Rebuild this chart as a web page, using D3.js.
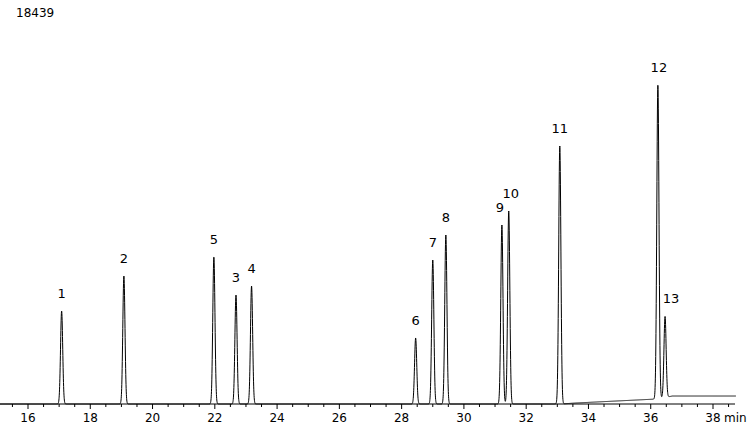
<!DOCTYPE html><html><head><meta charset="utf-8"><script src="https://cdn.jsdelivr.net/npm/d3@7"></script>
<style>body{margin:0;background:#fff}text{font-family:"DejaVu Sans",sans-serif}</style></head><body><svg id="c" width="750" height="425"></svg>
<script>
const peakLabels=["1","2","5","3","4","6","7","8","9","10","11","12","13"];
const peakTimes=[17.08,19.08,21.97,22.68,23.18,28.45,29.0,29.42,31.22,31.44,33.08,36.23,36.46];
const peakHeights=[93,128,147,109,118,66,144,169,179,193,258,314,81];
const baseTimes=[14.9,33.1,33.6,36.2,36.7,39.7];
const baseVals=[0,0,1,5,8,8];
const ticks=[16,18,20,22,24,26,28,30,32,34,36,38];
const maxLabel="18439";
const svg=d3.select("#c");
const x=d3.scaleLinear().domain([16,38]).range([28,713]);
const y=d3.scaleLinear().domain([0,400]).range([404,4]);
const base=d3.scaleLinear().domain(baseTimes).range(baseVals);
const sig=0.035;
const ts=d3.range(14.9,39.5,0.004);
const pts=ts.map(t=>{let v=base(t);peakTimes.forEach((p,i)=>{v+=peakHeights[i]*Math.exp(-((t-p)**2)/(2*sig*sig));});return [t,v];});
const ax=svg.append("g").attr("transform","translate(0,404)");
ax.append("line").attr("x1",0).attr("x2",735).attr("stroke","#000");
d3.range(15,39.01,0.5).forEach(t=>{const X=x(t);if(X<0||X>735)return;ax.append("line").attr("x1",X).attr("x2",X).attr("y1",0).attr("y2",Number.isInteger(t/2)?5:3).attr("stroke","#000");});
ticks.forEach(t=>ax.append("text").attr("x",x(t)).attr("y",18).attr("text-anchor","middle").attr("font-size",12).text(t));
ax.append("text").attr("x",x(38)+11).attr("y",18).attr("font-size",12).text("min");
svg.append("path").datum(pts.filter(d=>x(d[0])<=736)).attr("fill","none").attr("stroke","#000").attr("stroke-width",1)
 .attr("d",d3.line().x(d=>x(d[0])).y(d=>y(d[1])));
peakTimes.forEach((p,i)=>{let dx=0;if(peakLabels[i]==="9")dx=-2;if(peakLabels[i]==="10")dx=2;if(peakLabels[i]==="13")dx=6;if(peakLabels[i]==="12")dx=1;
 svg.append("text").attr("x",x(p)+dx).attr("y",y(peakHeights[i]+base(p))-13).attr("text-anchor","middle").attr("font-size",13).text(peakLabels[i]);});
svg.append("text").attr("x",16).attr("y",17).attr("font-size",12).text(maxLabel);
</script></body></html>
